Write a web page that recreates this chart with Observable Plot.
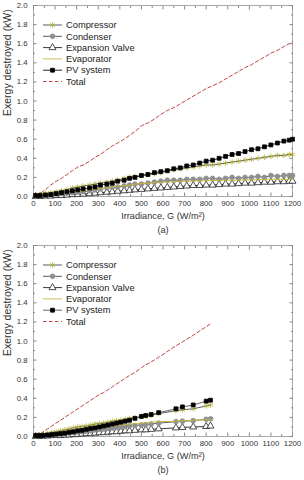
<!DOCTYPE html>
<html><head><meta charset="utf-8">
<script src="https://cdn.jsdelivr.net/npm/d3@7"></script>
<script src="https://cdn.jsdelivr.net/npm/@observablehq/plot@0.6"></script>
<style>
body{margin:0;background:#fff;font-family:Arial,"Liberation Sans",sans-serif}
svg{display:block}
</style>
</head><body><div id="chart"></div>
<script>
// ---- tick labels ----
const xTicks = [0,100,200,300,400,500,600,700,800,900,1000,1100,1200];
const xMinor = [50,150,250,350,450,550,650,750,850,950,1050,1150];
const yTicks = [0,0.2,0.4,0.6,0.8,1.0,1.2,1.4,1.6,1.8,2.0];
const yMinor = [0.1,0.3,0.5,0.7,0.9,1.1,1.3,1.5,1.7,1.9];
const seriesNames = ["Compressor","Condenser","Expansion Valve","Evaporator","PV system","Total"];
const panelLabels = ["(a)","(b)"];

// ---- panel (a) data ----
const xA = [10,30,55,80,105,130,155,180,205,230,260,285,310,340,365,390,420,445,470,500,530,560,590,620,650,680,710,740,770,800,830,860,890,920,950,980,1010,1040,1070,1100,1130,1160,1185,1200];
const totalA = [0.01,0.03,0.07,0.12,0.16,0.19,0.23,0.27,0.31,0.33,0.37,0.41,0.44,0.49,0.53,0.56,0.60,0.64,0.68,0.74,0.77,0.81,0.86,0.90,0.93,0.97,1.01,1.05,1.09,1.13,1.16,1.19,1.23,1.27,1.31,1.35,1.38,1.42,1.46,1.50,1.53,1.57,1.60,1.62];
const pvA = [0.01,0.01,0.015,0.02,0.03,0.04,0.05,0.06,0.07,0.08,0.09,0.10,0.12,0.13,0.14,0.16,0.17,0.19,0.20,0.22,0.23,0.25,0.26,0.27,0.29,0.30,0.32,0.33,0.35,0.37,0.38,0.40,0.42,0.44,0.45,0.47,0.49,0.50,0.52,0.54,0.56,0.58,0.59,0.60];
const compA = [0.01,0.02,0.03,0.04,0.05,0.06,0.07,0.09,0.10,0.11,0.12,0.13,0.14,0.15,0.16,0.17,0.19,0.20,0.21,0.22,0.23,0.24,0.25,0.27,0.28,0.29,0.30,0.31,0.32,0.33,0.33,0.34,0.35,0.36,0.37,0.38,0.39,0.40,0.41,0.42,0.43,0.43,0.44,0.44];
const condA = [0.005,0.01,0.015,0.02,0.025,0.03,0.035,0.04,0.045,0.05,0.06,0.07,0.08,0.09,0.10,0.10,0.11,0.12,0.13,0.13,0.14,0.15,0.16,0.17,0.17,0.17,0.18,0.18,0.18,0.19,0.19,0.18,0.19,0.20,0.19,0.20,0.20,0.21,0.20,0.22,0.21,0.22,0.22,0.22];
const evapA = [0.005,0.01,0.015,0.02,0.03,0.035,0.04,0.05,0.055,0.06,0.07,0.08,0.085,0.09,0.10,0.11,0.115,0.12,0.13,0.135,0.14,0.145,0.15,0.15,0.155,0.16,0.16,0.16,0.165,0.165,0.165,0.17,0.17,0.17,0.17,0.175,0.175,0.175,0.18,0.18,0.18,0.18,0.18,0.18];
const expA = [0,0,0.005,0.005,0.01,0.01,0.015,0.02,0.02,0.025,0.03,0.035,0.04,0.045,0.05,0.055,0.06,0.065,0.07,0.075,0.08,0.085,0.09,0.095,0.10,0.105,0.11,0.115,0.115,0.12,0.12,0.125,0.13,0.13,0.135,0.14,0.14,0.145,0.15,0.15,0.155,0.155,0.16,0.16];

// ---- panel (b) data ----
const xB = [10,25,45,65,85,105,125,145,165,185,205,225,245,265,285,305,325,345,365,385,405,425,445,470,500,520,545,580,660,690,740,800,820];
const totalB = [0,0.02,0.05,0.08,0.11,0.14,0.17,0.20,0.23,0.26,0.29,0.32,0.35,0.38,0.41,0.44,0.46,0.49,0.52,0.55,0.58,0.61,0.64,0.67,0.72,0.75,0.78,0.83,0.95,0.99,1.06,1.15,1.18];
const pvB = [0.01,0.01,0.01,0.015,0.02,0.025,0.03,0.035,0.045,0.05,0.06,0.065,0.075,0.085,0.09,0.10,0.11,0.12,0.13,0.14,0.15,0.16,0.17,0.19,0.21,0.22,0.23,0.25,0.29,0.31,0.33,0.37,0.38];
const compB = [0.01,0.015,0.02,0.03,0.04,0.05,0.06,0.07,0.08,0.09,0.10,0.105,0.11,0.12,0.13,0.135,0.14,0.15,0.16,0.165,0.17,0.18,0.19,0.195,0.21,0.215,0.22,0.24,0.27,0.28,0.29,0.32,0.33];
const condB = [0.005,0.01,0.01,0.015,0.02,0.02,0.025,0.03,0.035,0.04,0.045,0.05,0.055,0.06,0.07,0.075,0.08,0.085,0.09,0.095,0.10,0.105,0.11,0.115,0.12,0.125,0.13,0.14,0.155,0.16,0.165,0.18,0.185];
const evapB = [0.005,0.01,0.015,0.02,0.025,0.03,0.035,0.04,0.05,0.055,0.06,0.07,0.075,0.08,0.09,0.095,0.10,0.105,0.11,0.115,0.12,0.125,0.13,0.135,0.14,0.145,0.15,0.155,0.16,0.165,0.17,0.175,0.18];
const expB = [0,0,0.005,0.005,0.01,0.01,0.01,0.015,0.015,0.02,0.02,0.025,0.03,0.03,0.035,0.04,0.04,0.045,0.05,0.05,0.055,0.06,0.06,0.065,0.07,0.07,0.075,0.08,0.09,0.095,0.10,0.105,0.11];

const S = {
  comp: {line:"#4a4a4a", sym:"asterisk", fill:"none", stroke:"#b3ad32", r:2.6},
  cond: {line:"#4a4a4a", sym:"circle", fill:"#8f8f8f", stroke:"#8f8f8f", r:2.4},
  exp:  {line:"#222", sym:"triangle", fill:"#fff", stroke:"#222", r:2.6},
  evap: {line:"#c9b73a"},
  pv:   {line:"#111", sym:"square", fill:"#000", stroke:"#000", r:2.2},
  tot:  {line:"#c0463f"}
};

function panel(xs, tot, pv, comp, cond, evap, exp, caption, pvLine) {
  const lineM = (ys, col, w=0.9) => Plot.line(xs, {x: xs, y: ys, stroke: col, strokeWidth: w});
  const dotM = (ys, st) => Plot.dot(xs, {x: xs, y: ys, symbol: st.sym, r: st.r, fill: st.fill, stroke: st.stroke, strokeWidth: 0.8});
  const tickStyle = {stroke:"#888", tickFormat: () => "", label: null};
  const p = Plot.plot({
    width: 304, height: 240,
    marginLeft: 33, marginRight: 12, marginTop: 5, marginBottom: 44,
    style: {fontFamily: "Arial, 'Liberation Sans', sans-serif", background: "#fff"},
    x: {domain: [0, 1200]},
    y: {domain: [0, 2]},
    marks: [
      Plot.frame({stroke: "#aaa"}),
      Plot.axisX(xTicks, {anchor:"bottom", tickSize:0, tickPadding:4, fontSize:7.8, color:"#333", label:null, tickFormat: d => String(d)}),
      Plot.axisY(yTicks, {anchor:"left", tickSize:0, tickPadding:6, fontSize:7.8, color:"#333", label:null, tickFormat: d => d.toFixed(1)}),
      Plot.axisX(xTicks, {anchor:"bottom", tickSize:-3.5, ...tickStyle}),
      Plot.axisX(xMinor, {anchor:"bottom", tickSize:-2, ...tickStyle}),
      Plot.axisX(xTicks, {anchor:"top", tickSize:-3.5, ...tickStyle}),
      Plot.axisX(xMinor, {anchor:"top", tickSize:-2, ...tickStyle}),
      Plot.axisY(yTicks, {anchor:"left", tickSize:-3.5, ...tickStyle}),
      Plot.axisY(yMinor, {anchor:"left", tickSize:-2, ...tickStyle}),
      Plot.axisY(yTicks, {anchor:"right", tickSize:-3.5, ...tickStyle}),
      Plot.axisY(yMinor, {anchor:"right", tickSize:-2, ...tickStyle}),
      Plot.text(["Irradiance, G (W/m²)"], {frameAnchor:"bottom", dy:22, fontSize:9.2, fill:"#333", text: d => d}),
      Plot.text([caption], {frameAnchor:"bottom", dy:36, fontSize:9.2, fill:"#333", text: d => d}),
      Plot.text(["Exergy destroyed (kW)"], {frameAnchor:"left", dx:-26, dy:15, rotate:-90, fontSize:10.5, fill:"#333", text: d => d}),
      Plot.line(xs, {x: xs, y: tot, stroke: S.tot.line, strokeWidth: 1, strokeDasharray: "3.5,2.5"}),
      lineM(exp, S.exp.line), dotM(exp, S.exp),
      lineM(cond, S.cond.line), dotM(cond, S.cond),
      lineM(evap, S.evap.line, 1),
      lineM(comp, S.comp.line), dotM(comp, S.comp),
      lineM(pv, pvLine), dotM(pv, S.pv)
    ]
  });
  // legend
  const svg = d3.select(p);
  const entries = [
    {name: seriesNames[0], st: S.comp},
    {name: seriesNames[1], st: S.cond},
    {name: seriesNames[2], st: S.exp},
    {name: seriesNames[3], st: S.evap},
    {name: seriesNames[4], st: {...S.pv, line: pvLine}},
    {name: seriesNames[5], st: S.tot, dash: true}
  ];
  const symMap = {asterisk: d3.symbolAsterisk, circle: d3.symbolCircle, triangle: d3.symbolTriangle, square: d3.symbolSquare};
  const g = svg.append("g").attr("class", "legend").attr("text-anchor", "start");
  entries.forEach((e, i) => {
    const y = 25 + i * 11.3;
    g.append("line").attr("x1", 43).attr("x2", 62).attr("y1", y).attr("y2", y)
      .attr("stroke", e.st.line).attr("stroke-width", e.dash ? 1 : 0.9)
      .attr("stroke-dasharray", e.dash ? "3.5,2.5" : null);
    if (e.st.sym) {
      const area = Math.PI * e.st.r * e.st.r;
      g.append("path").attr("transform", `translate(52.5,${y})`)
        .attr("d", d3.symbol(symMap[e.st.sym], area)())
        .attr("fill", e.st.fill).attr("stroke", e.st.stroke).attr("stroke-width", 0.8);
    }
    g.append("text").attr("x", 66).attr("y", y).attr("dy", "0.35em")
      .attr("text-anchor", "start")
      .attr("font-size", 9.3).attr("fill", "#222").text(e.name);
  });
  return p;
}

const root = document.getElementById("chart");
root.appendChild(panel(xA, totalA, pvA, compA, condA, evapA, expA, panelLabels[0], "#111"));
root.appendChild(panel(xB, totalB, pvB, compB, condB, evapB, expB, panelLabels[1], "#555"));
</script>
</body></html>
